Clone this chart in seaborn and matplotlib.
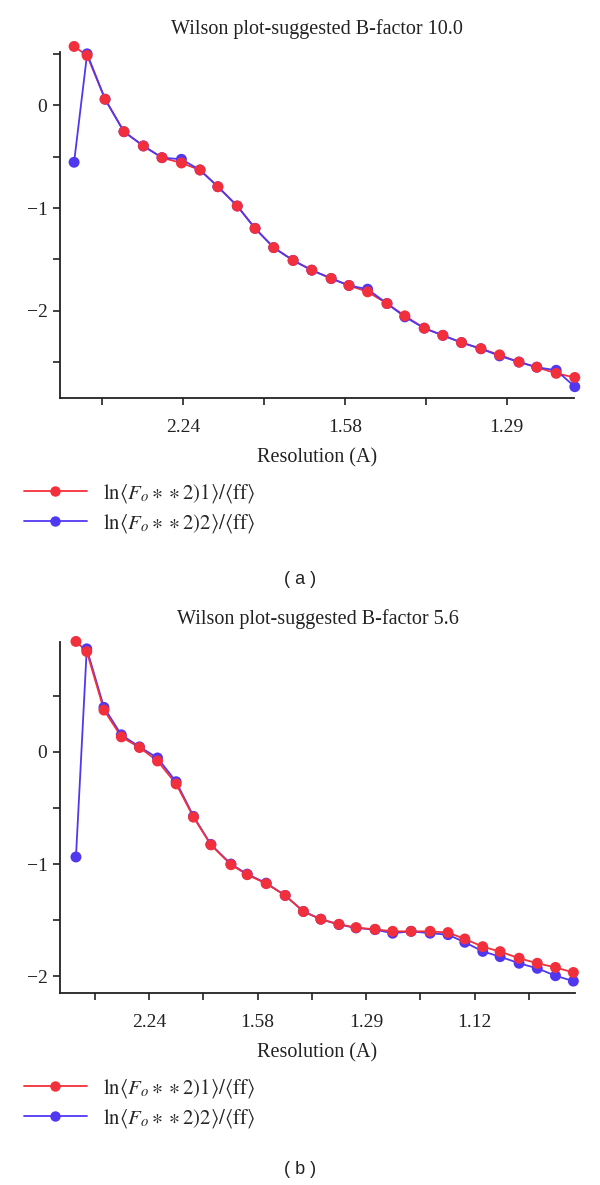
import numpy as np
import pandas as pd
import matplotlib
matplotlib.use("Agg")
import matplotlib.pyplot as plt
from matplotlib.lines import Line2D
import seaborn as sns

# ---------------- data ----------------
# x positions are in 1/d^2 (the axis is linear in 1/d^2, labelled in resolution d)
a_s = [0.0654, 0.0815, 0.1037, 0.127, 0.151, 0.174, 0.198, 0.221, 0.243, 0.267,
       0.289, 0.312, 0.336, 0.359, 0.383, 0.405, 0.428, 0.452, 0.474, 0.498,
       0.521, 0.544, 0.568, 0.591, 0.615, 0.637, 0.661, 0.684]
a_red = [0.574, 0.486, 0.06, -0.256, -0.395, -0.509, -0.561, -0.629, -0.792, -0.98,
         -1.198, -1.385, -1.51, -1.605, -1.686, -1.754, -1.816, -1.93, -2.05, -2.17,
         -2.24, -2.31, -2.37, -2.43, -2.50, -2.55, -2.61, -2.65]
a_blue = [-0.554, 0.502, 0.06, -0.256, -0.395, -0.509, -0.525, -0.629, -0.792, -0.98,
          -1.198, -1.385, -1.51, -1.605, -1.686, -1.754, -1.79, -1.93, -2.06, -2.17,
          -2.24, -2.31, -2.37, -2.44, -2.50, -2.55, -2.58, -2.74]

b_s = [0.0654, 0.0853, 0.117, 0.149, 0.1825, 0.2157, 0.250, 0.282, 0.314, 0.351,
       0.381, 0.416, 0.451, 0.4845, 0.5166, 0.550, 0.5816, 0.6166, 0.649, 0.683,
       0.718, 0.751, 0.782, 0.815, 0.847, 0.882, 0.9155, 0.949, 0.982]
b_red = [0.985, 0.895, 0.373, 0.134, 0.039, -0.081, -0.286, -0.582, -0.829, -1.006,
         -1.095, -1.175, -1.28, -1.423, -1.492, -1.537, -1.567, -1.582, -1.60, -1.60,
         -1.60, -1.611, -1.668, -1.737, -1.781, -1.84, -1.885, -1.922, -1.967]
b_blue = [-0.937, 0.919, 0.397, 0.152, 0.045, -0.054, -0.266, -0.575, -0.825, -1.0,
          -1.09, -1.17, -1.28, -1.423, -1.492, -1.54, -1.57, -1.585, -1.617, -1.60,
          -1.617, -1.63, -1.698, -1.779, -1.826, -1.885, -1.93, -1.996, -2.044]

a_xticks = [0.2, 0.4, 0.6]
a_xlabels = ["2.24", "1.58", "1.29"]
b_xticks = [0.2, 0.4, 0.6, 0.8]
b_xlabels = ["2.24", "1.58", "1.29", "1.12"]
a_title = "Wilson plot-suggested B-factor 10.0"
b_title = "Wilson plot-suggested B-factor 5.6"
label1 = r"$\mathrm{ln}\langle F_o\ast\ast 2)1\rangle/\langle\mathrm{ff}\rangle$"
label2 = r"$\mathrm{ln}\langle F_o\ast\ast 2)2\rangle/\langle\mathrm{ff}\rangle$"

RED = "#f2303c"
BLUE = "#5038f0"

sns.set_theme(style="white")
plt.rcParams["font.family"] = ["Liberation Serif", "DejaVu Serif"]
plt.rcParams["mathtext.fontset"] = "stix"

fig = plt.figure(figsize=(6, 11.85), dpi=100)
ax_a = fig.add_axes([60/600, 1-398/1185, 514/600, 346/1185])
ax_b = fig.add_axes([60/600, 1-993/1185, 515/600, 351/1185])


def draw(ax, s, red, blue, line_top, xlim, ylim, xticks, xlabels, yticks_all, ylab_vals, title):
    df = pd.DataFrame({"s": s, "red": red, "blue": blue})
    order = ["red", "blue"] if line_top == "blue" else ["blue", "red"]
    cols = {"red": RED, "blue": BLUE}
    for k in order:
        sns.lineplot(data=df, x="s", y=k, ax=ax, color=cols[k], lw=1.3,
                     sort=False, estimator=None, clip_on=False)
    for k in ["blue", "red"]:
        sns.scatterplot(data=df, x="s", y=k, ax=ax, color=cols[k], s=62,
                        edgecolor="none", linewidth=0, zorder=4, clip_on=False)
    ax.set_xlim(*xlim)
    ax.set_ylim(*ylim)
    ticks = [round(t, 1) for t in np.arange(0.1, xlim[1], 0.1)]
    ax.set_xticks(ticks)
    ax.set_xticklabels([xlabels[xticks.index(t)] if t in xticks else "" for t in ticks])
    ax.set_yticks(yticks_all)
    ax.set_yticklabels([("\u2212%d" % abs(v) if v < 0 else "%d" % v) if v in ylab_vals else ""
                        for v in yticks_all])
    for side in ["top", "right"]:
        ax.spines[side].set_visible(False)
    for side in ["left", "bottom"]:
        ax.spines[side].set_color("#222222")
        ax.spines[side].set_linewidth(1.3)
    ax.tick_params(axis="both", direction="out", length=5, width=1.2, color="#222222",
                   labelsize=14, labelcolor="#222222", pad=4,
                   bottom=True, left=True)
    ax.tick_params(axis="x", pad=10)
    ax.set_xlabel("Resolution (A)", fontsize=14.5, color="#222222", labelpad=9)
    ax.set_ylabel("")
    ax.set_title(title, fontsize=14.5, color="#222222", pad=13)
    ax.set_facecolor("white")


draw(ax_a, a_s, a_red, a_blue, "blue", (0.048, 0.683), (-2.85, 0.52),
     a_xticks, a_xlabels, [0.5, 0, -0.5, -1, -1.5, -2, -2.5], [0, -1, -2], a_title)
draw(ax_b, b_s, b_red, b_blue, "red", (0.036, 0.985), (-2.15, 0.98),
     b_xticks, b_xlabels, [0.5, 0, -0.5, -1, -1.5, -2], [0, -1, -2], b_title)

handles = [Line2D([0], [0], color=RED, lw=1.3, marker="o", markersize=7.5, markeredgewidth=0),
           Line2D([0], [0], color=BLUE, lw=1.3, marker="o", markersize=7.5, markeredgewidth=0)]
for y_top_px in [482, 1077]:
    fig.legend(handles, [label1, label2], loc="upper left",
               bbox_to_anchor=(24/600, 1 - y_top_px/1185), frameon=False,
               fontsize=15, handlelength=3.0, handletextpad=0.8, labelspacing=0.35,
               borderpad=0, borderaxespad=0)

fig.text(300/600, 1-580/1185, "( a )", ha="center", va="center", fontsize=13,
         family=["Liberation Sans", "DejaVu Sans"], color="#222222")
fig.text(300/600, 1-1169/1185, "( b )", ha="center", va="center", fontsize=13,
         family=["Liberation Sans", "DejaVu Sans"], color="#222222")

fig.savefig("out.png", dpi=100, facecolor="white")
